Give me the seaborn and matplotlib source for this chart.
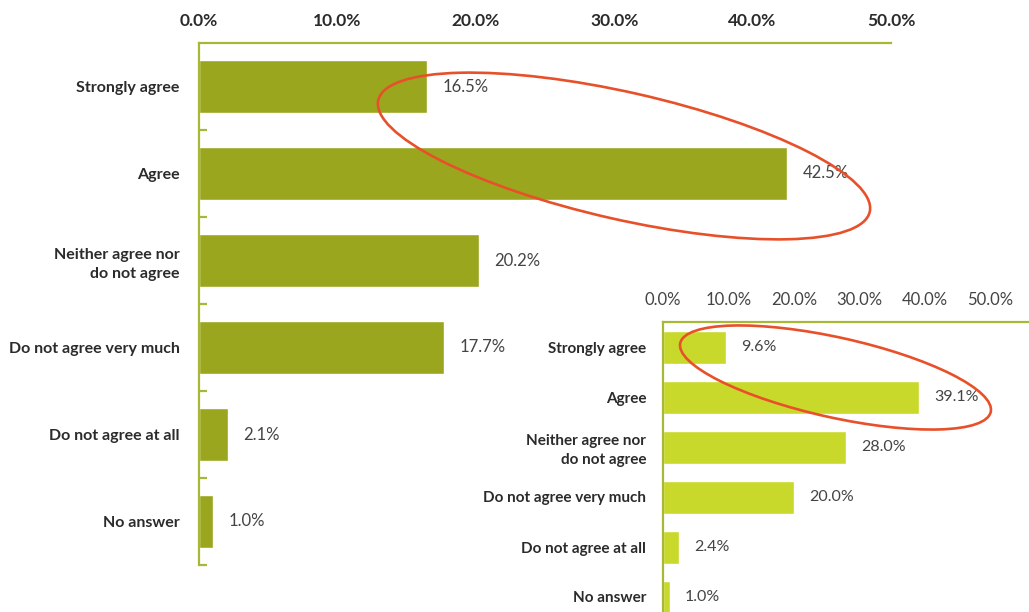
import matplotlib
matplotlib.use("Agg")
import matplotlib.pyplot as plt
from matplotlib.patches import Ellipse
from matplotlib.ticker import FixedLocator, FuncFormatter
import seaborn as sns
import pandas as pd

# ---- data ----
main_categories = ["Strongly agree", "Agree", "Neither agree nor\ndo not agree",
                   "Do not agree very much", "Do not agree at all", "No answer"]
main_values = [16.5, 42.5, 20.2, 17.7, 2.1, 1.0]

inset_categories = ["Strongly agree", "Agree", "Neither agree nor\ndo not agree",
                    "Do not agree very much", "Do not agree at all", "No answer"]
inset_values = [9.6, 39.1, 28.0, 20.0, 2.4, 1.0]

tick_values = [0, 10, 20, 30, 40, 50]

# ---- style ----
sns.set_theme(style="white")
plt.rcParams["font.family"] = ["Lato", "DejaVu Sans"]

MAIN_COLOR = "#9ba61f"
INSET_COLOR = "#c9d92b"
SPINE_COLOR = "#a9b736"
TEXT_DARK = "#2b2b2b"
TEXT_VAL = "#444444"
RED = "#e8502a"

W, H = 1029, 612
fig = plt.figure(figsize=(W / 100, H / 100), dpi=100)


def px_axes(left, top, right, bottom):
    return fig.add_axes([left / W, 1 - bottom / H, (right - left) / W, (bottom - top) / H])


def style_axes(ax, tick_fs, tick_weight, tick_color, lab_fs, lab_pad, tick_pad):
    ax.set_xlabel("")
    ax.set_ylabel("")
    ax.xaxis.tick_top()
    ax.xaxis.set_major_locator(FixedLocator(tick_values))
    ax.xaxis.set_major_formatter(FuncFormatter(lambda v, p: f"{v:.1f}%"))
    ax.tick_params(axis="x", length=0, pad=tick_pad, labelsize=tick_fs, labelcolor=tick_color)
    for t in ax.get_xticklabels():
        t.set_fontweight(tick_weight)
    ax.tick_params(axis="y", which="major", length=0, pad=lab_pad, labelsize=lab_fs,
                   labelcolor=TEXT_DARK)
    for t in ax.get_yticklabels():
        t.set_fontweight("bold")
        t.set_linespacing(1.45)
        t.set_multialignment("right")
    for s in ["right", "bottom"]:
        ax.spines[s].set_visible(False)
    for s in ["top", "left"]:
        ax.spines[s].set_color(SPINE_COLOR)
        ax.spines[s].set_linewidth(1.6)
    ax.grid(False)


# ---- main chart ----
ax = px_axes(199, 43, 891, 565)
df_main = pd.DataFrame({"category": main_categories, "value": main_values})
sns.barplot(data=df_main, x="value", y="category", color=MAIN_COLOR, saturation=1,
            width=0.62, ax=ax, orient="h")
ax.set_xlim(0, 50)
style_axes(ax, 12.5, "bold", TEXT_DARK, 11.5, 14, 10)
ax.yaxis.set_minor_locator(FixedLocator([i + 0.5 for i in range(len(main_values))]))
ax.tick_params(axis="y", which="minor", direction="in", length=6, width=1.6,
               color=SPINE_COLOR, left=True)
ax.bar_label(ax.containers[0], labels=[f"{v:.1f}%" for v in main_values],
             padding=11, fontsize=12, color=TEXT_VAL)

# ---- inset chart ----
ax2 = px_axes(663, 322, 1040, 622)
ax2.set_facecolor("white")
df_inset = pd.DataFrame({"category": inset_categories, "value": inset_values})
sns.barplot(data=df_inset, x="value", y="category", color=INSET_COLOR, saturation=1,
            width=0.66, ax=ax2, orient="h")
ax2.set_xlim(0, (1040 - 663) / 6.55)
style_axes(ax2, 12, "normal", TEXT_VAL, 11, 12, 10)
ax2.bar_label(ax2.containers[0], labels=[f"{v:.1f}%" for v in inset_values],
              padding=11, fontsize=11.5, color=TEXT_VAL)

# ---- highlight ellipses (figure inches) ----
e1 = Ellipse((6.24, (H - 156) / 100), 5.04, 1.27, angle=-12.8, fill=False,
             edgecolor=RED, linewidth=1.9, transform=fig.dpi_scale_trans, zorder=10)
e2 = Ellipse((8.355, (H - 377.5) / 100), 3.18, 0.80, angle=-12.5, fill=False,
             edgecolor=RED, linewidth=1.9, transform=fig.dpi_scale_trans, zorder=10)
fig.add_artist(e1)
fig.add_artist(e2)

fig.savefig("out.png", dpi=100)
